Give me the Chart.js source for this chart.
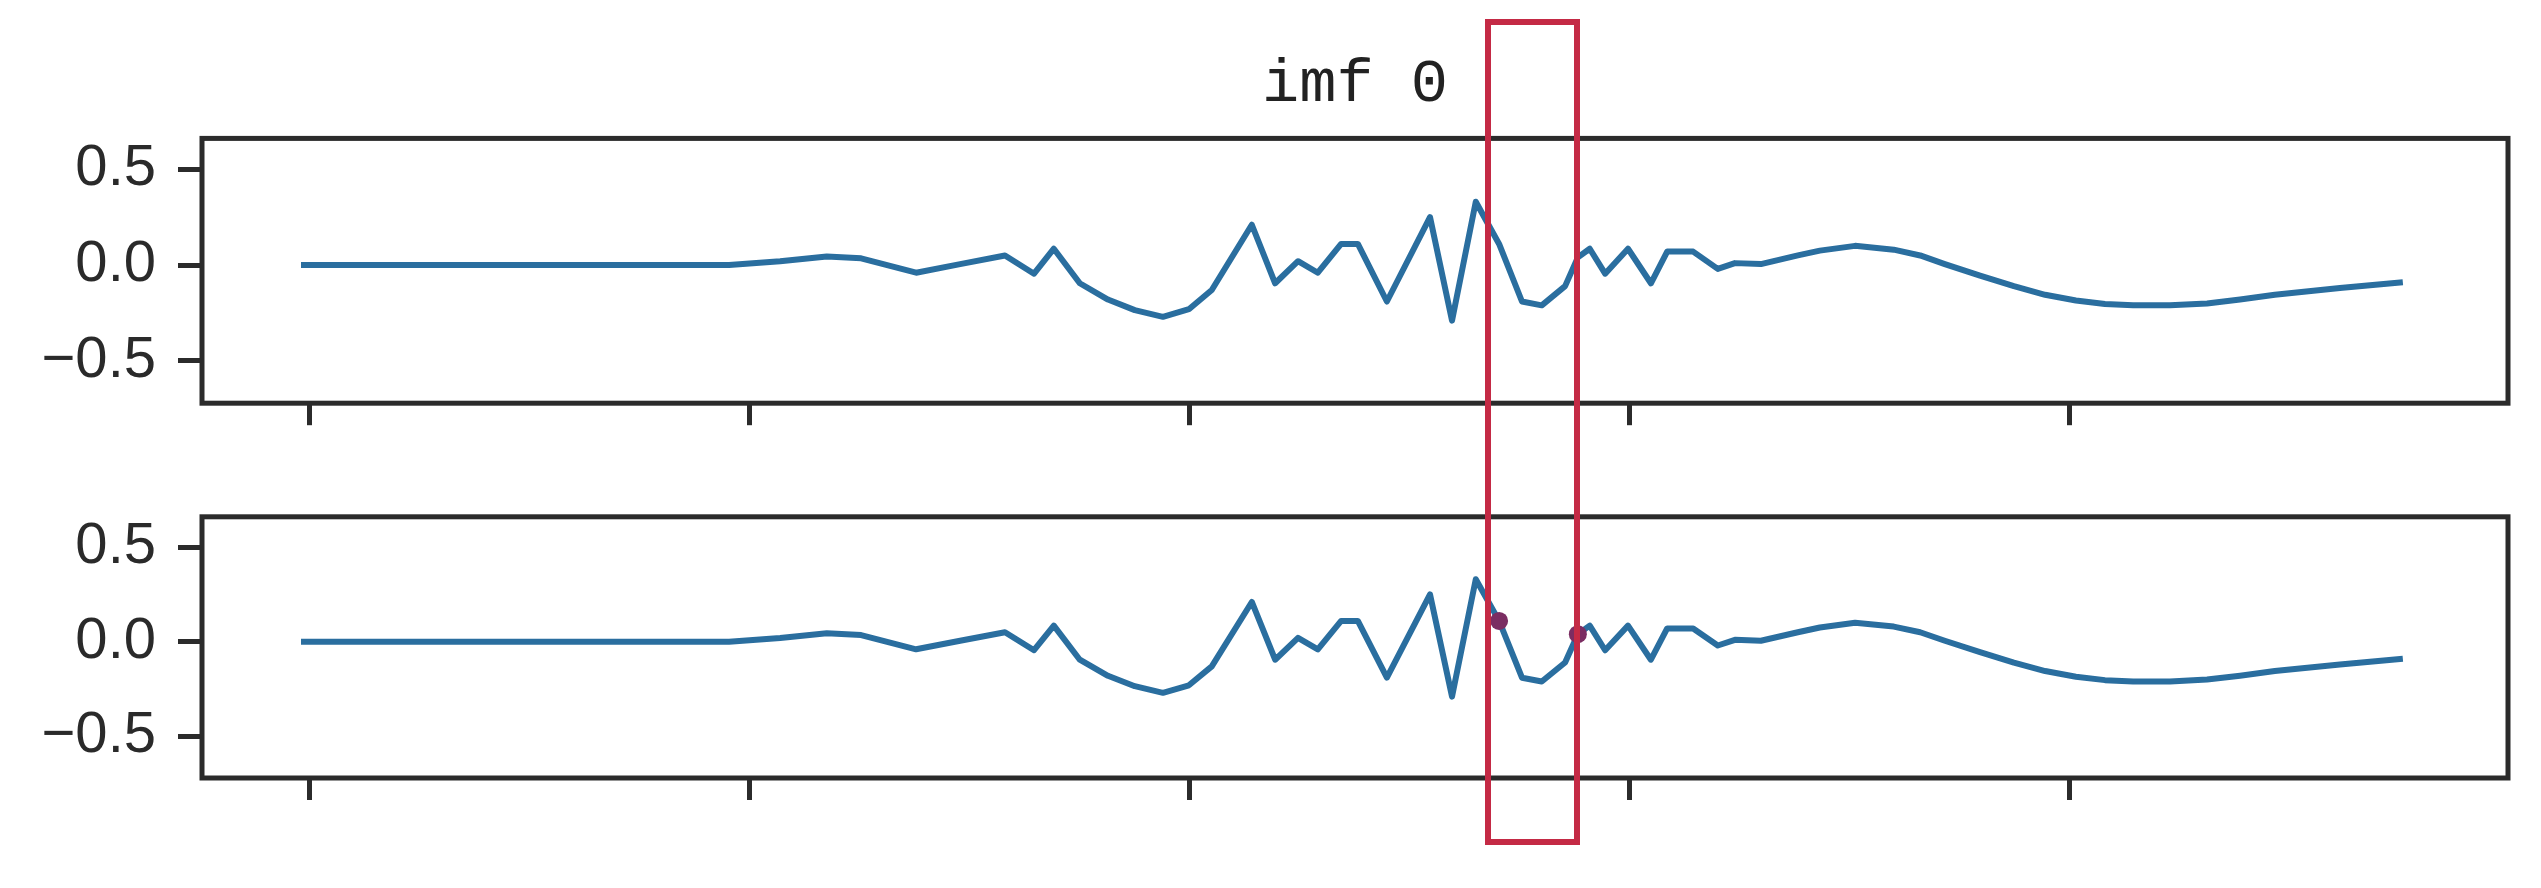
<!DOCTYPE html>
<html>
<head>
<meta charset="utf-8">
<script src="https://cdn.jsdelivr.net/npm/chart.js@4"></script>
<style>
  body { margin: 0; background: #fff; }
  #wrap { position: relative; width: 2541px; height: 888px; overflow: hidden; }
  canvas { position: absolute; left: 0; }
  #box { position: absolute; border: 6px solid #c42a45; box-sizing: border-box; }
</style>
</head>
<body>
<div id="wrap">
  <canvas id="top" width="2541" height="460" style="top:0"></canvas>
  <canvas id="bottom" width="2541" height="428" style="top:460px"></canvas>
  <div id="box"></div>
</div>
<script>
// sample positions and imf 0 values
const sampleX = [0, 50, 97.3, 108.9, 119.5, 127.3, 139.8, 149.8, 160, 166.6, 171.1, 177, 183.4, 189.5,
  195.9, 201.8, 207, 216.1, 221.4, 226.6, 231.1, 236.4, 240.2, 246.8, 256.6, 261.6, 267, 272.3,
  277.5, 282, 287.3, 290.2, 292.9, 296.4, 301.6, 306.8, 310.5, 316.4, 322, 325.9, 331.8, 340.2,
  345.2, 353.2, 362, 368, 373.6, 381.6, 389.3, 396.4, 403.4, 410, 416.4, 424.8, 433.2, 440.7,
  448.6, 463.4, 477.7];
const imf0 = [0, 0, 0, 0.02, 0.045, 0.035, -0.04, 0.005, 0.05, -0.045, 0.085, -0.095, -0.18, -0.235,
  -0.27, -0.23, -0.13, 0.21, -0.095, 0.02, -0.04, 0.11, 0.11, -0.19, 0.25, -0.29, 0.33, 0.11,
  -0.19, -0.21, -0.11, 0.04, 0.085, -0.045, 0.085, -0.095, 0.07, 0.07, -0.02, 0.01, 0.005, 0.05,
  0.075, 0.10, 0.08, 0.05, 0.005, -0.055, -0.11, -0.155, -0.185, -0.203, -0.21, -0.21, -0.2, -0.18,
  -0.155, -0.12, -0.09];
const markerIdx = [27, 31];
const highlight = [269.8, 290];
const xTicks = [2, 102, 202, 302, 402];
const yTicks = [-0.5, 0, 0.5];

const lineColor = '#2a6e9f';
const spine = '#2b2b2b';

const points = sampleX.map((x, i) => ({ x: x, y: imf0[i] }));

const frame = {
  id: 'frame',
  afterDraw(chart) {
    const a = chart.chartArea, ctx = chart.ctx;
    ctx.save();
    ctx.strokeStyle = spine;
    ctx.lineWidth = 5;
    ctx.strokeRect(a.left, a.top, a.right - a.left, a.bottom - a.top);
    ctx.restore();
  }
};

const makeOptions = (padTop, xHeight, title) => ({
  responsive: false,
  animation: false,
  devicePixelRatio: 1,
  layout: { padding: { left: 0, right: 33, top: padTop, bottom: 0 } },
  plugins: {
    legend: { display: false },
    tooltip: { enabled: false },
    title: {
      display: !!title,
      text: title,
      fullSize: false,
      color: '#222',
      font: { family: 'Liberation Mono', size: 62, weight: 'normal' },
      padding: { top: 47, bottom: 17 }
    }
  },
  scales: {
    x: {
      type: 'linear',
      min: -22.5,
      max: 501.6,
      afterBuildTicks: (s) => { s.ticks = xTicks.map(v => ({ value: v })); },
      afterFit: (s) => { s.height = xHeight; },
      border: { display: false },
      grid: { drawOnChartArea: false, tickLength: 22, tickWidth: 5, tickColor: spine },
      ticks: { autoSkip: false, callback: () => '' }
    },
    y: {
      min: -0.72,
      max: 0.66,
      afterBuildTicks: (s) => { s.ticks = yTicks.map(v => ({ value: v })); },
      afterFit: (s) => { s.width = 202; },
      border: { display: false },
      grid: { drawOnChartArea: false, tickLength: 24, tickWidth: 5, tickColor: spine },
      ticks: {
        padding: 22,
        color: '#2a2a2a',
        font: { family: 'Liberation Sans', size: 58 },
        callback: (v) => (v < 0 ? '\u2212' : '') + Math.abs(v).toFixed(1)
      }
    }
  }
});

const imfLine = {
  label: 'imf 0',
  data: points,
  borderColor: lineColor,
  borderWidth: 6,
  borderJoinStyle: 'round',
  pointRadius: 0,
  tension: 0
};

const topChart = new Chart(document.getElementById('top').getContext('2d'), {
  type: 'line',
  data: { datasets: [imfLine] },
  options: makeOptions(0, 38, 'imf 0'),
  plugins: [frame]
});

new Chart(document.getElementById('bottom').getContext('2d'), {
  type: 'line',
  data: {
    datasets: [
      {
        label: 'marks',
        data: markerIdx.map(i => points[i]),
        showLine: false,
        pointRadius: 9,
        pointBackgroundColor: '#7b2d62',
        pointBorderWidth: 0
      },
      Object.assign({}, imfLine)
    ]
  },
  options: makeOptions(35, 110, ''),
  plugins: [frame]
});

// red frame round the highlighted window, spanning both panels
const xs = topChart.scales.x;
const l = xs.getPixelForValue(highlight[0]);
const r = xs.getPixelForValue(highlight[1]);
const box = document.getElementById('box');
box.style.left = (l - 3) + 'px';
box.style.width = (r - l + 6) + 'px';
box.style.top = '19px';
box.style.height = '826px';
</script>
</body>
</html>
